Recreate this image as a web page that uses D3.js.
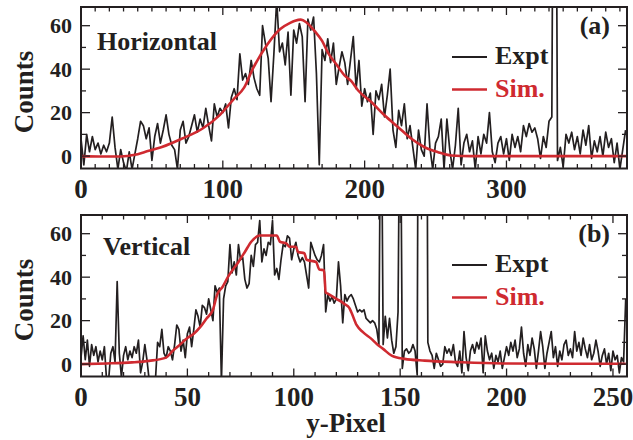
<!DOCTYPE html>
<html>
<head>
<meta charset="utf-8">
<script src="https://cdn.jsdelivr.net/npm/d3@7"></script>
<style>
  html, body { margin: 0; padding: 0; background: #fff; }
  svg text { font-family: "Liberation Serif", "Times New Roman", serif; font-weight: bold; }
</style>
</head>
<body>
<svg id="chart" width="633" height="440"></svg>
<script>
// Panel (a): measured counts, one value every 2 pixels (0..384)
const horizStep = 2;
const horizExpt = [
  8, -4, 10, 2, 9, 3, 6, 1, 5, 2,
  6, 18, 4, -6, 3, -3, -7, 2, -6, 1,
  8, 16, 14, 8, 13, -2, 9, 15, 6, 12,
  19, 10, 5, 3, -6, 12, 16, 6, 9, 14,
  19, 11, 17, 13, 22, 14, 7, 24, 18, 22,
  20, 24, 13, 27, 31, 26, 47, 35, 38, 33,
  44, 36, 31, 28, 60, 52, 45, 25, 47, 72,
  48, 52, 42, 57, 28, 58, 52, 61, 55, 25,
  63, 58, 64, 38, -4, 49, 44, 54, 43, 52,
  33, 41, 48, 43, 33, 44, 55, 31, 44, 23,
  31, 25, 29, 10, 30, 26, 33, 18, 28, 40,
  12, 4, 21, 14, 24, 8, 14, 4, -6, 12,
  3, 0, 24, 4, -6, 6, 9, 17, -6, 17,
  3, -6, 5, 22, -4, 6, 10, 2, 7, -6,
  9, 1, 10, 6, 20, 2, -3, 6, 9, 1,
  8, -2, 10, 4, 9, 2, 14, 9, 15, 11,
  13, 8, -1, 9, 4, 16, 18, 300, -2, 4,
  -5, 10, 6, 11, 3, 9, 1, 12, 5, 14,
  -1, 7, 2, 9, 0, 11, 4, 8, -3, 6,
  -6, 3, 12
];
// Panel (a): simulation curve, read at its turning points
const horizSimX = [0, 15, 28, 38, 45, 57, 71, 85.5, 98, 108, 115, 121, 131.5, 140.5, 147.5,
  151, 155, 159, 164.8, 170, 174.2, 180.3, 186, 190.6, 195.3, 204.7, 214, 223.5, 233, 242,
  251.7, 261, 275, 385];
const horizSimY = [0, -0.2, -0.2, 0.6, 1.9, 4.2, 8, 12.6, 19, 26.5, 31.5, 40, 51.5, 58.5, 61.3,
  62.3, 62.8, 61.5, 57.5, 53, 47.5, 42, 37, 34.5, 30.3, 24.9, 18.8, 13.4, 8, 4.2,
  1.8, 0.3, 0, 0];

// Panel (b): measured counts, one value per pixel (0..256)
const vertStep = 1;
const vertExpt = [
  3, 13, 2, 11, -1, 9, 4, 8, 1, 6,
  2, 8, -7, -7, 5, 8, 1, 38, 5, -6,
  4, 8, 2, 6, 3, 8, 5, 11, -4, 1,
  9, 2, -7, -7, -7, -7, 10, 8, 16, 5,
  3, 8, 6, 2, 9, 18, 16, 6, 11, 3,
  14, 17, 8, 16, 25, 22, 17, 27, 26, 23,
  30, 25, 20, 36, 33, 35, -8, 30, 36, 38,
  55, 42, 47, 41, 55, 48, 49, 39, 35, 37,
  50, 45, 55, 56, 66, 47, 53, 50, 56, 55,
  66, 41, 44, 39, 48, 55, 54, 59, 58, 48,
  53, 56, 50, 47, 49, 47, 41, 35, 56, 53,
  50, 48, 47, 50, 55, 24, 32, 29, 31, 28,
  30, 47, 36, 19, 32, 29, 31, 32, 30, 27,
  24, 25, 24, 25, 21, 20, 19, 20, 19, 16,
  9, 150, 9, 22, 12, 21, 11, 5, 8, 24,
  150, -2, 6, 7, 5, 6, 9, 6, -5, 300,
  250, 280, 300, 10, 6, 4, -2, 5, 2, -1,
  0, 8, 5, 7, 4, 9, 1, -1, 6, -4,
  15, 3, -3, 6, 9, 5, 10, 7, 12, -4,
  13, 6, 2, 5, -2, 4, 1, 6, -2, 3,
  8, 4, 10, 6, 11, 3, 7, 17, 5, -1,
  9, 4, 12, 7, -2, 6, 15, 8, -2, 5,
  10, 15, 3, 8, -1, 6, 2, 9, 11, 4,
  7, 3, 15, 6, 10, 4, 12, 7, 3, 9,
  2, 5, 11, 6, -1, 4, 7, 0, 5, -3,
  6, 2, 4, -4, 3, 1, 30
];
const vertSimX = [0, 12, 24, 32, 40, 43, 46, 50, 53, 56, 59, 62, 64, 66.5, 69, 74, 77, 80, 82.5, 84,
  92, 93.5, 96.5, 98, 101, 102, 105, 106, 110.5, 112, 114.2, 115, 116, 120, 122.5,
  124, 126, 127, 129.5, 132.5, 136.5, 139, 142, 146, 152, 161.5, 177, 198, 230, 256];
const vertSimY = [0, 0.3, 0.8, 1.5, 3, 6, 8.5, 12, 14, 17, 21, 25, 32, 35.5, 40, 47, 51.6, 56.3, 58.6, 59.2,
  59.2, 56.3, 55.5, 54, 54, 51.6, 51, 48, 47, 43.5, 43.2, 33, 32.4, 30, 28.6,
  27.5, 26, 24, 18, 14.7, 11.6, 9.3, 7, 3.9, 2.4, 1.6, 0.9, 0.3, 0.2, 0.2];

const yDomain = [-5.7, 68.6];
const yLabels = [0, 20, 40, 60];
const yMinor = [0, 10, 20, 30, 40, 50, 60];
const legendNames = ["Expt", "Sim."];

const RED = "#cf2a30";
const margin = { left: 81 };
const W = 546, H = 161.5;

const svg = d3.select("#chart");

const panels = [
  { id: "a", top: 7, xMax: 385, xLabels: [0, 100, 200, 300], xMinorStep: 10,
    title: "Horizontal", titleX: 16, expt: horizExpt, step: horizStep,
    simX: horizSimX, simY: horizSimY },
  { id: "b", top: 215, xMax: 256.6, xLabels: [0, 50, 100, 150, 200, 250], xMinorStep: 10,
    title: "Vertical", titleX: 22, expt: vertExpt, step: vertStep,
    simX: vertSimX, simY: vertSimY }
];

panels.forEach(p => {
  const g = svg.append("g").attr("transform", `translate(${margin.left},${p.top})`);
  const x = d3.scaleLinear().domain([0, p.xMax]).range([0, W]);
  const y = d3.scaleLinear().domain(yDomain).range([H, 0]);

  g.append("clipPath").attr("id", "clip-" + p.id)
    .append("rect").attr("width", W).attr("height", H);

  const plot = g.append("g").attr("clip-path", `url(#clip-${p.id})`);

  // Experimental trace
  plot.append("path")
    .datum(p.expt)
    .attr("fill", "none")
    .attr("stroke", "#231f20")
    .attr("stroke-width", 1.7)
    .attr("stroke-linejoin", "round")
    .attr("d", d3.line().x((d, i) => x(i * p.step)).y(d => y(d)));

  // Simulation
  plot.append("path")
    .datum(p.simX.map((v, i) => [v, p.simY[i]]))
    .attr("fill", "none")
    .attr("stroke", RED)
    .attr("stroke-width", 2.6)
    .attr("stroke-linejoin", "round")
    .attr("d", d3.line().x(d => x(d[0])).y(d => y(d[1])).curve(d3.curveMonotoneX));

  // Ticks, all pointing inward, on four sides
  const xMinor = d3.range(0, p.xMax, p.xMinorStep);
  const tickG = g.append("g").attr("stroke", "#231f20").attr("stroke-width", 1.3);
  xMinor.forEach(v => {
    const len = p.xLabels.includes(v) ? 8 : 4.5;
    tickG.append("line").attr("x1", x(v)).attr("x2", x(v)).attr("y1", H).attr("y2", H - len);
    tickG.append("line").attr("x1", x(v)).attr("x2", x(v)).attr("y1", 0).attr("y2", len);
  });
  yMinor.forEach(v => {
    const len = yLabels.includes(v) ? 9 : 5;
    tickG.append("line").attr("x1", 0).attr("x2", len).attr("y1", y(v)).attr("y2", y(v));
    tickG.append("line").attr("x1", W).attr("x2", W - len).attr("y1", y(v)).attr("y2", y(v));
  });

  // Frame
  g.append("rect")
    .attr("width", W).attr("height", H)
    .attr("fill", "none")
    .attr("stroke", "#231f20")
    .attr("stroke-width", 2);

  // Tick labels
  g.selectAll(".ylab").data(yLabels).enter().append("text")
    .attr("class", "ylab")
    .attr("x", -9)
    .attr("y", d => y(d) + 7.5)
    .attr("text-anchor", "end")
    .attr("font-size", 22)
    .attr("fill", "#231f20")
    .text(d => d);

  g.selectAll(".xlab").data(p.xLabels).enter().append("text")
    .attr("class", "xlab")
    .attr("x", d => x(d))
    .attr("y", H + 29)
    .attr("text-anchor", "middle")
    .attr("font-size", 27)
    .attr("fill", "#231f20")
    .text(d => d);

  // Axis title
  svg.append("text")
    .attr("transform", `translate(33,${p.top + 85}) rotate(-90)`)
    .attr("text-anchor", "middle")
    .attr("font-size", 27)
    .attr("fill", "#231f20")
    .text("Counts");

  // Panel name and letter
  g.append("text")
    .attr("x", p.titleX).attr("y", p.id === "a" ? 43 : 40)
    .attr("font-size", 26)
    .attr("fill", "#231f20")
    .text(p.title);

  g.append("text")
    .attr("x", 529).attr("y", 26.5)
    .attr("text-anchor", "end")
    .attr("font-size", 26)
    .attr("fill", "#231f20")
    .text(`(${p.id})`);

  // Legend
  legendNames.forEach((name, i) => {
    const base = 57 + i * 32.5;
    const col = i === 0 ? "#231f20" : RED;
    g.append("line")
      .attr("x1", 371).attr("x2", 406)
      .attr("y1", base - 7).attr("y2", base - 7)
      .attr("stroke", col)
      .attr("stroke-width", i === 0 ? 2 : 2.6);
    g.append("text")
      .attr("x", 414).attr("y", base)
      .attr("font-size", 26)
      .attr("fill", col)
      .text(name);
  });
});

svg.append("text")
  .attr("x", 346).attr("y", 432)
  .attr("text-anchor", "middle")
  .attr("font-size", 27)
  .attr("fill", "#231f20")
  .text("y-Pixel");
</script>
</body>
</html>
